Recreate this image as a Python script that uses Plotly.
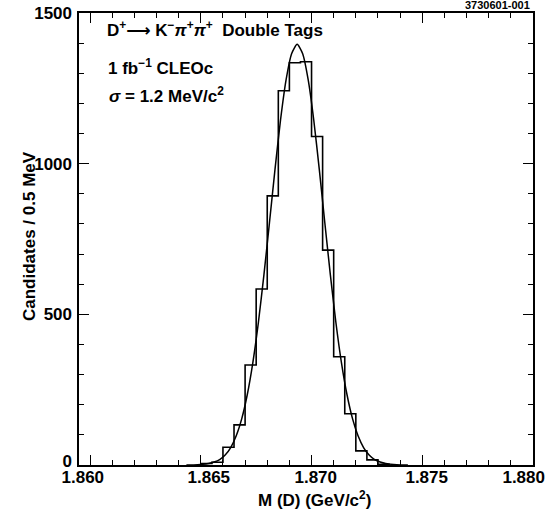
import plotly.graph_objects as go

# ---- data ----
bin_left_edges = [1.8650, 1.8655, 1.8660, 1.8665, 1.8670, 1.8675, 1.8680, 1.8685,
                  1.8690, 1.8695, 1.8700, 1.8705, 1.8710, 1.8715, 1.8720, 1.8725, 1.8730]
bin_counts = [5, 9, 59, 133, 332, 584, 893, 1242,
              1335, 1338, 1090, 713, 359, 170, 47, 17, 2]
bin_width = 0.0005

fit_mass = [1.86435, 1.86485, 1.86535, 1.86560, 1.86585, 1.86610, 1.86635, 1.86660,
            1.86685, 1.86710, 1.86735, 1.86760, 1.86785, 1.86810, 1.86835, 1.86860,
            1.86885, 1.86910, 1.86935, 1.86960, 1.86985, 1.87010, 1.87035, 1.87060,
            1.87085, 1.87110, 1.87135, 1.87160, 1.87185, 1.87210, 1.87235, 1.87260,
            1.87285, 1.87310, 1.87335, 1.87385, 1.87435]
fit_counts = [0, 1, 5, 10, 18, 33, 58, 97,
              154, 234, 340, 473, 631, 804, 981, 1145,
              1278, 1365, 1396, 1365, 1278, 1145, 981, 804,
              631, 473, 340, 234, 154, 97, 58, 33,
              18, 10, 5, 1, 0]

x_tick_values = [1.860, 1.865, 1.870, 1.875, 1.880]
x_tick_labels = ["1.860", "1.865", "1.870", "1.875", "1.880"]
y_tick_values = [0, 500, 1000, 1500]
y_tick_labels = ["0", "500", "1000", "1500"]

# ---- build the step outline of the histogram ----
step_x = [bin_left_edges[0]] + bin_left_edges + [bin_left_edges[-1] + bin_width]
step_y = [0] + bin_counts + [0]

FONT = "Liberation Sans, Arial, Helvetica, sans-serif"
W, H = 552, 516
L, R, T, B = 79, 19, 13, 51
PW, PH = W - L - R, H - T - B


def px(xp):
    return (xp - L) / PW


def py(yp):
    return (H - B - yp) / PH


# label positions as placed in the reference (slightly off the tick marks)
x_label_pos = [1.85967, 1.86536, 1.87019, 1.87520, 1.87958]
y_label_pos = [12, 500, 1000, 1500]

fig = go.Figure()
fig.add_trace(go.Scatter(x=step_x, y=step_y, mode="lines", line_shape="hv",
                         line=dict(color="black", width=1.6), hoverinfo="skip",
                         showlegend=False))
fig.add_trace(go.Scatter(x=fit_mass, y=fit_counts, mode="lines", line_shape="spline",
                         line=dict(color="black", width=1.5, smoothing=0.6),
                         hoverinfo="skip", showlegend=False))
# invisible traces carrying the label axes
fig.add_trace(go.Scatter(x=x_label_pos, y=[0] * len(x_label_pos), mode="lines",
                         line=dict(width=0), opacity=0, xaxis="x2", yaxis="y",
                         hoverinfo="skip", showlegend=False))
fig.add_trace(go.Scatter(x=[1.870] * len(y_label_pos), y=y_label_pos, mode="lines",
                         line=dict(width=0), opacity=0, xaxis="x", yaxis="y2",
                         hoverinfo="skip", showlegend=False))

xrange = [1.8595, 1.880]
yrange = [0, 1500]
bold = dict(family=FONT, size=17, weight="bold", color="black")
fig.update_layout(
    width=W, height=H,
    margin=dict(l=L, r=R, t=T, b=B, pad=0, autoexpand=False),
    paper_bgcolor="white", plot_bgcolor="white",
    font=dict(family=FONT, color="black", size=17),
    xaxis=dict(range=xrange, showgrid=False, zeroline=False, showline=True,
               automargin=False,
               linecolor="black", linewidth=2, mirror="ticks",
               ticks="inside", ticklen=10, tickwidth=1.3, tickcolor="black",
               tickvals=x_tick_values, showticklabels=False,
               minor=dict(ticks="inside", ticklen=5, tickwidth=1.3, tickcolor="black",
                          dtick=0.001, tick0=1.860, showgrid=False)),
    xaxis2=dict(range=xrange, overlaying="x", anchor="y", side="bottom",
                automargin=False,
                showgrid=False, zeroline=False, showline=False, ticks="",
                tickvals=x_label_pos, ticktext=x_tick_labels, tickfont=bold),
    yaxis=dict(range=yrange, showgrid=False, zeroline=False, showline=True,
               automargin=False,
               linecolor="black", linewidth=2, mirror="ticks",
               ticks="inside", ticklen=10, tickwidth=1.3, tickcolor="black",
               tickvals=y_tick_values, showticklabels=False,
               minor=dict(ticks="inside", ticklen=5, tickwidth=1.3, tickcolor="black",
                          dtick=100, tick0=0, showgrid=False)),
    yaxis2=dict(range=yrange, overlaying="y", anchor="x", side="left",
                automargin=False,
                showgrid=False, zeroline=False, showline=False, ticks="",
                tickvals=y_label_pos, ticktext=y_tick_labels, tickfont=bold,
                ticklabelstandoff=6),
)

arrow = '<span style="font-family:DejaVu Sans">⟶</span>'
anns = [
    dict(text="<b>D<sup>+</sup>" + arrow + " K<sup>−</sup><i>π</i><sup>+</sup><i>π</i><sup>+</sup>&nbsp; Double Tags</b>",
         x=px(105), y=py(29), xanchor="left", yanchor="middle", size=17),
    dict(text="<b>1 fb<sup>−1</sup> CLEOc</b>",
         x=px(106), y=py(67), xanchor="left", yanchor="middle", size=17),
    dict(text="<b><i>σ</i> = 1.2 MeV/c<sup>2</sup></b>",
         x=px(107), y=py(95), xanchor="left", yanchor="middle", size=17),
    dict(text="<b>3730601-001</b>",
         x=px(497), y=py(5), xanchor="center", yanchor="middle", size=11),
    dict(text="<b>M (D) (GeV/c<sup>2</sup>)</b>",
         x=px(314), y=py(499), xanchor="center", yanchor="middle", size=17),
    dict(text="<b>Candidates / 0.5 MeV</b>",
         x=px(29), y=py(236), xanchor="center", yanchor="middle", size=17, textangle=-90),
]
for a in anns:
    size = a.pop("size")
    fig.add_annotation(xref="paper", yref="paper", showarrow=False,
                       font=dict(family=FONT, size=size, color="black"), **a)

fig.write_html("out.html", config={"displayModeBar": False},
               post_script="document.body.style.margin='0';document.body.style.overflow='hidden';")
